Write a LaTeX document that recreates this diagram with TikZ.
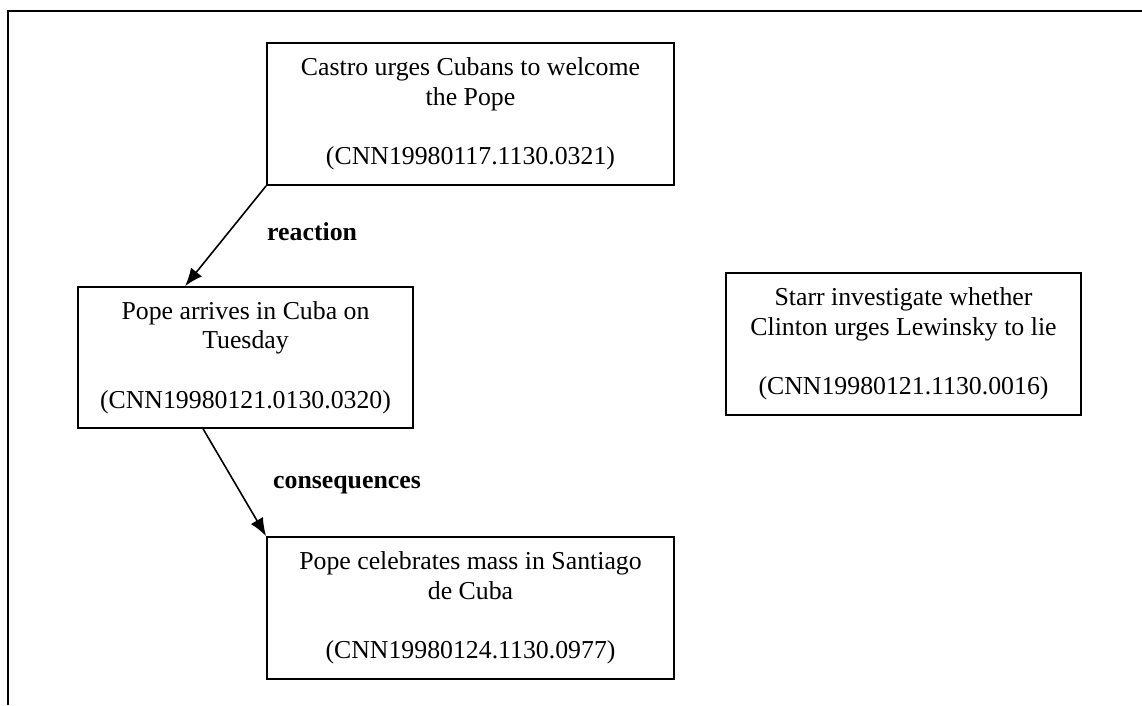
\documentclass[tikz,border=0pt]{standalone}
\usepackage{fontspec}
\setmainfont{Liberation Serif}
\usetikzlibrary{arrows.meta}
\begin{document}
\begin{tikzpicture}[x=1pt,y=-1pt,
  event/.style={draw, line width=1.8pt, rectangle, align=center, inner sep=0pt,
    font=\fontsize{25.8}{29.7}\selectfont},
  rel/.style={anchor=base west, inner sep=0pt, font=\fontsize{25.8}{29.7}\selectfont\bfseries},
  arr/.style={draw, line width=1.6pt, -{Latex[length=18pt,width=14pt]}}]
\useasboundingbox (0,0) rectangle (1142,705);
% page frame (top and left edges only)
\draw[line width=2.4pt] (8,705) -- (8,11) -- (1142,11);
% events
\node[event, minimum width=407pt, minimum height=142pt] (castro) at (470.5,114)
  {Castro urges Cubans to welcome\\the Pope\\[29.7pt](CNN19980117.1130.0321)};
\node[event, minimum width=335pt, minimum height=141pt] (arrive) at (245.5,357.5)
  {Pope arrives in Cuba on\\Tuesday\\[29.7pt](CNN19980121.0130.0320)};
\node[event, minimum width=355pt, minimum height=142pt] (starr) at (903.5,344)
  {Starr investigate whether\\Clinton urges Lewinsky to lie\\[29.7pt](CNN19980121.1130.0016)};
\node[event, minimum width=407pt, minimum height=142pt] (mass) at (470.5,608)
  {Pope celebrates mass in Santiago\\de Cuba\\[29.7pt](CNN19980124.1130.0977)};
% relations
\draw[arr] (castro.south west) -- ([xshift=108pt]arrive.north west);
\draw[arr] ([xshift=126pt]arrive.south west) -- (mass.north west);
\node[rel] (reaction) at (267,240) {reaction};
\node[rel] (conseq) at (273,488) {consequences};
\end{tikzpicture}
\end{document}
